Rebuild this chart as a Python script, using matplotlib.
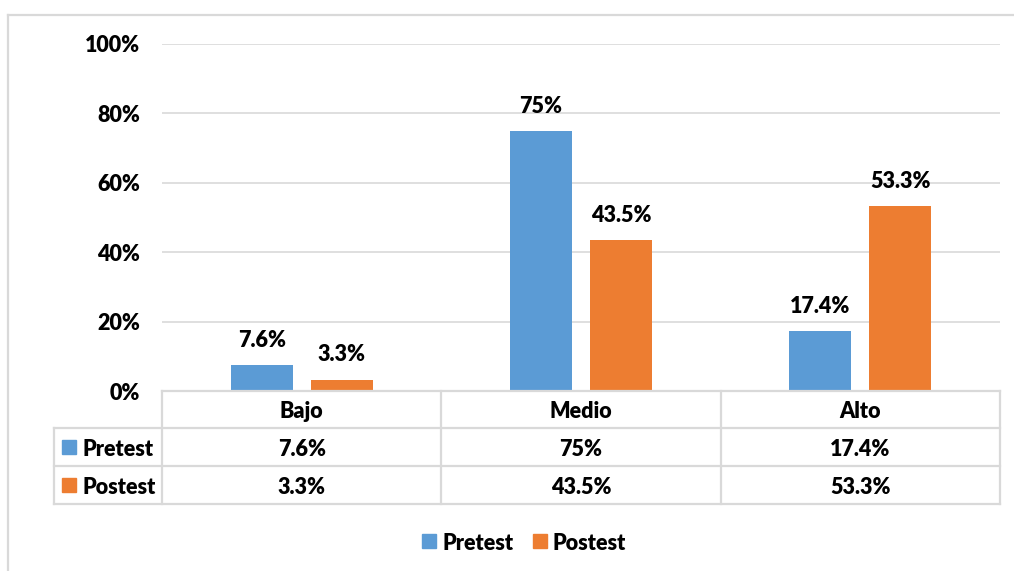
import matplotlib
matplotlib.use("Agg")
import matplotlib.pyplot as plt
from matplotlib.lines import Line2D
from matplotlib.patches import Rectangle
import numpy as np

# Data
categories = ["Bajo", "Medio", "Alto"]
series_names = ["Pretest", "Postest"]
pretest = [7.6, 75.0, 17.4]
postest = [3.3, 43.5, 53.3]
pretest_labels = ["7.6%", "75%", "17.4%"]
postest_labels = ["3.3%", "43.5%", "53.3%"]
y_ticks = [0, 20, 40, 60, 80, 100]

BLUE = "#5B9BD5"
ORANGE = "#ED7D31"
GRID = "#D9D9D9"
FONT = ["Lato", "DejaVu Sans"]
FS = 15.5
WEIGHT = "heavy"

W, H = 1014, 571
fig = plt.figure(figsize=(W / 100, H / 100), dpi=100)
fig.patch.set_facecolor("white")


def fx(x):
    return x / W


def fy(y):
    return 1 - y / H


# Plot area
ax_left, ax_right, ax_top, ax_bottom = 162, 1000, 44, 391
ax = fig.add_axes([fx(ax_left), fy(ax_bottom), (ax_right - ax_left) / W, (ax_bottom - ax_top) / H])
ax.set_xlim(-0.5, len(categories) - 0.5)
ax.set_ylim(0, 100)
for s in ax.spines.values():
    s.set_visible(False)
ax.set_yticks(y_ticks)
ax.set_yticklabels([f"{t}%" for t in y_ticks], fontfamily=FONT, fontweight=WEIGHT, fontsize=FS)
ax.tick_params(axis="y", length=0, pad=16)
ax.set_xticks([])
ax.grid(axis="y", color=GRID, linewidth=1.2)
ax.set_axisbelow(True)

x = np.arange(len(categories))
bw = 0.222
off = 0.143
b1 = ax.bar(x - off, pretest, width=bw, color=BLUE, zorder=3)
b2 = ax.bar(x + off, postest, width=bw, color=ORANGE, zorder=3)
for bars, labels in ((b1, pretest_labels), (b2, postest_labels)):
    for rect, lab in zip(bars, labels):
        ax.annotate(lab, (rect.get_x() + rect.get_width() / 2, rect.get_height()),
                    xytext=(0, 13), textcoords="offset points", ha="center", va="baseline",
                    fontfamily=FONT, fontweight=WEIGHT, fontsize=FS, annotation_clip=False)

# Data table under the plot
col_x = [162, 441.3, 720.7, 1000]
row_y = [391, 428, 466, 504]
lab_left = 54
lw = 1.6


def hline(x0, x1, y):
    fig.add_artist(Line2D([fx(x0), fx(x1)], [fy(y), fy(y)], color=GRID, linewidth=lw,
                          transform=fig.transFigure))


def vline(x, y0, y1):
    fig.add_artist(Line2D([fx(x), fx(x)], [fy(y0), fy(y1)], color=GRID, linewidth=lw,
                          transform=fig.transFigure))


hline(col_x[0], col_x[-1], row_y[0])
for yy in row_y[1:]:
    hline(lab_left, col_x[-1], yy)
vline(lab_left, row_y[1], row_y[3])
for xx in col_x:
    vline(xx, row_y[0], row_y[3])

txt = dict(fontfamily=FONT, fontweight=WEIGHT, fontsize=FS, transform=fig.transFigure)
for i, cat in enumerate(categories):
    cx = (col_x[i] + col_x[i + 1]) / 2
    fig.text(fx(cx), fy((row_y[0] + row_y[1]) / 2), cat, ha="center", va="center_baseline", **txt)
    fig.text(fx(cx), fy((row_y[1] + row_y[2]) / 2), pretest_labels[i], ha="center", va="center_baseline", **txt)
    fig.text(fx(cx), fy((row_y[2] + row_y[3]) / 2), postest_labels[i], ha="center", va="center_baseline", **txt)

for r, (name, col) in enumerate(zip(series_names, [BLUE, ORANGE])):
    yc = (row_y[r + 1] + row_y[r + 2]) / 2
    fig.add_artist(Rectangle((fx(62), fy(yc + 7)), 14 / W, 14 / H, color=col, transform=fig.transFigure))
    fig.text(fx(82), fy(yc), name, ha="left", va="center_baseline", **txt)

# Legend
leg_y = 541
for name, col, kx in zip(series_names, [BLUE, ORANGE], [422, 533]):
    fig.add_artist(Rectangle((fx(kx), fy(leg_y + 7)), 14 / W, 14 / H, color=col, transform=fig.transFigure))
    fig.text(fx(kx + 20), fy(leg_y), name, ha="left", va="center_baseline", **txt)

# Chart area frame
fig.add_artist(Line2D([fx(8), fx(8)], [fy(15), fy(H + 5)], color=GRID, linewidth=1.6, transform=fig.transFigure))
fig.add_artist(Line2D([fx(8), fx(W + 5)], [fy(15), fy(15)], color=GRID, linewidth=1.6, transform=fig.transFigure))

fig.savefig("out.png", dpi=100, facecolor="white")
